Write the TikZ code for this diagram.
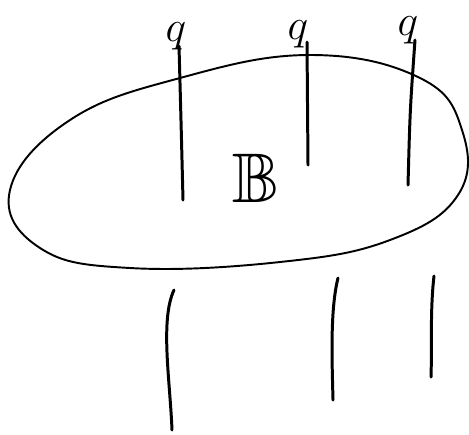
\documentclass[tikz,border=0pt]{standalone}
\usepackage{amsmath,amssymb}
\usepackage{tikz}
\usetikzlibrary{positioning}
\tikzset{
  pen/.style={line width=1.7pt, line cap=round, line join=round},
  rim/.style={line width=1.1pt, line cap=round},
  qlabel/.style={inner sep=0pt, font=\fontsize{36}{38}\selectfont}
}
\begin{document}
\begin{tikzpicture}[x=0.02cm, y=-0.02cm]
\useasboundingbox (0,0) rectangle (469,434);
% the blob
\draw[rim] plot[smooth cycle, tension=0.7] coordinates
  {(10,190) (70,120) (180,78) (310,55) (420,78) (462,130) (458,195) (390,240) (280,262) (130,268) (40,248)};
\node (bb) at (256,178) {\fontsize{40}{42}\selectfont$\mathbb{B}$};
% strands from above
\node[qlabel] (q1) at (176,36) {$q$};
\node[qlabel] (q2) at (298,34) {$q$};
\node[qlabel] (q3) at (408,30) {$q$};
\draw[pen] (q1.south) ++(3,-4) .. controls (181,120) .. (183,200);
\draw[pen] (q2.south) ++(9,-6) -- (308,165);
\draw[pen] (q3.south) ++(7,-4) .. controls (410,110) .. (408,185);
% strands below
\draw[pen] (174,290) .. controls (160,320) and (170,380) .. (172,430);
\draw[pen] (338,278) .. controls (330,310) and (332,360) .. (333,400);
\draw[pen] (434,276) .. controls (430,310) and (432,350) .. (431,377);
\end{tikzpicture}
\end{document}
